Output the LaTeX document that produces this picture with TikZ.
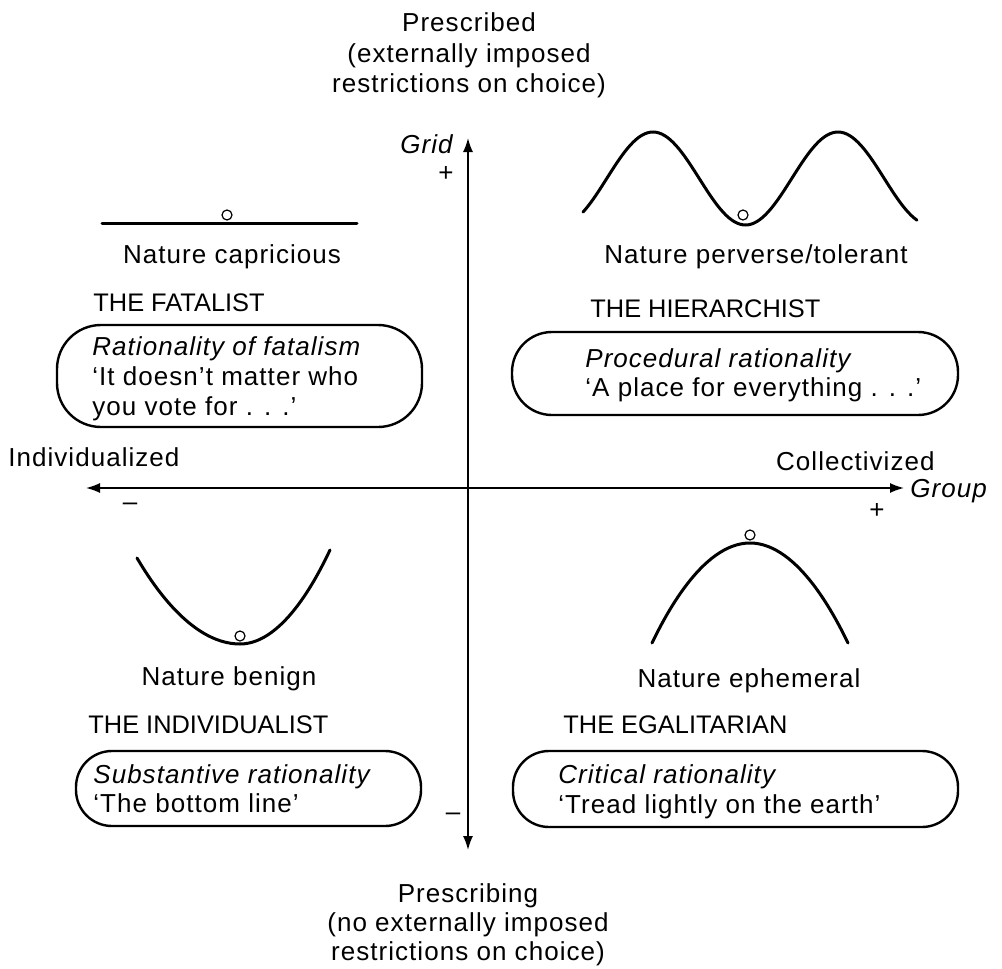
\documentclass[tikz,border=0pt]{standalone}
\usepackage{fontspec}
\setmainfont{Liberation Sans}[LetterSpace=4]
\newfontfamily\capsfont{Liberation Sans}
\usetikzlibrary{arrows.meta}
\begin{document}
\begin{tikzpicture}[x=0.5pt,y=-0.5pt,
  txt/.style={inner sep=0pt, font=\fontsize{13}{15}\selectfont},
  itx/.style={inner sep=0pt, font=\fontsize{13}{15}\selectfont\itshape},
  ttl/.style={inner sep=0pt, font=\capsfont\fontsize{12.7}{15}\selectfont},
  curve/.style={line width=1.5pt, line cap=round},
  ball/.style={line width=0.6pt, fill=white},
  rbox/.style={line width=1.2pt},
  axisline/.style={line width=0.8pt, {Latex[length=7pt,width=5pt]}-{Latex[length=7pt,width=5pt]}}]
\useasboundingbox (0,0) rectangle (1002,969);

% axes
\coordinate (gtop) at (468,138);
\coordinate (gbot) at (468,850);
\coordinate (gl) at (86,488);
\coordinate (gr) at (904,488);
\draw[axisline] (gbot) -- (gtop);
\draw[axisline] (gl) -- (gr);

% top / bottom titles
\node[txt, anchor=base] (t1) at (469,32) {Prescribed};
\node[txt, anchor=base] (t2) at (469,62) {(externally imposed};
\node[txt, anchor=base] (t3) at (469,92) {restrictions on choice)};
\node[txt, anchor=base] (b1) at (468,902) {Prescribing};
\node[txt, anchor=base] (b2) at (468,931) {(no externally imposed};
\node[txt, anchor=base] (b3) at (468,960) {restrictions on choice)};

% axis labels
\node[itx, anchor=base east] (grid) at (453,153) {Grid};
\node[txt] (gplus) at (446,174) {+};
\node[txt] (gminus) at (453,817) {–};
\node[txt, anchor=base west] (indiv) at (8,466) {Individualized};
\node[txt, anchor=base east] (coll) at (935,470) {Collectivized};
\node[itx, anchor=base west] (group) at (910,497) {Group};
\node[txt] (hminus) at (130,507) {–};
\node[txt] (hplus) at (877,511) {+};

% ---- Fatalist (top left)
\draw[curve] (102,223) -- (357,223);
\draw[ball] (227,215) circle[radius=2.5pt];
\node[txt, anchor=base] (n1) at (232,263) {Nature capricious};
\node[ttl, anchor=base west] (c1) at (93,311) {THE FATALIST};
\draw[rbox, rounded corners=22pt] (57,325) rectangle (422,427);
\node[itx, anchor=base west] (r1a) at (92,355) {Rationality of fatalism};
\node[txt, anchor=base west] (r1b) at (92,385) {‘It doesn’t matter who};
\node[txt, anchor=base west] (r1c) at (92,415) {you vote for . . .’};

% ---- Hierarchist (top right)
\draw[curve] plot[domain=583:917, samples=120, smooth] (\x, {178.5-46.5*cos((\x-653)*1.94595)});
\draw[ball] (743,215) circle[radius=2.5pt];
\node[txt, anchor=base] (n2) at (756,263) {Nature perverse/tolerant};
\node[ttl, anchor=base west] (c2) at (590,317) {THE HIERARCHIST};
\draw[rbox, rounded corners=20pt] (512,332) rectangle (958,415);
\node[itx, anchor=base west] (r2a) at (585,367) {Procedural rationality};
\node[txt, anchor=base west] (r2b) at (585,396) {‘A place for everything . . .’};

% ---- Individualist (bottom left)
\draw[curve] (137,558) parabola bend (240,644) (330,550);
\draw[ball] (240,636) circle[radius=2.5pt];
\node[txt, anchor=base] (n3) at (229,685) {Nature benign};
\node[ttl, anchor=base west] (c3) at (88,733) {THE INDIVIDUALIST};
\draw[rbox, rounded corners=18pt] (76,751) rectangle (421,826);
\node[itx, anchor=base west] (r3a) at (93,783) {Substantive rationality};
\node[txt, anchor=base west] (r3b) at (93,812) {‘The bottom line’};

% ---- Egalitarian (bottom right)
\draw[curve] (652,643) parabola bend (750,543) (848,643);
\draw[ball] (750,535) circle[radius=2.5pt];
\node[txt, anchor=base] (n4) at (749,687) {Nature ephemeral};
\node[ttl, anchor=base west] (c4) at (563,733) {THE EGALITARIAN};
\draw[rbox, rounded corners=18pt] (513,751) rectangle (958,827);
\node[itx, anchor=base west] (r4a) at (558,783) {Critical rationality};
\node[txt, anchor=base west] (r4b) at (558,813) {‘Tread lightly on the earth’};
\end{tikzpicture}
\end{document}
